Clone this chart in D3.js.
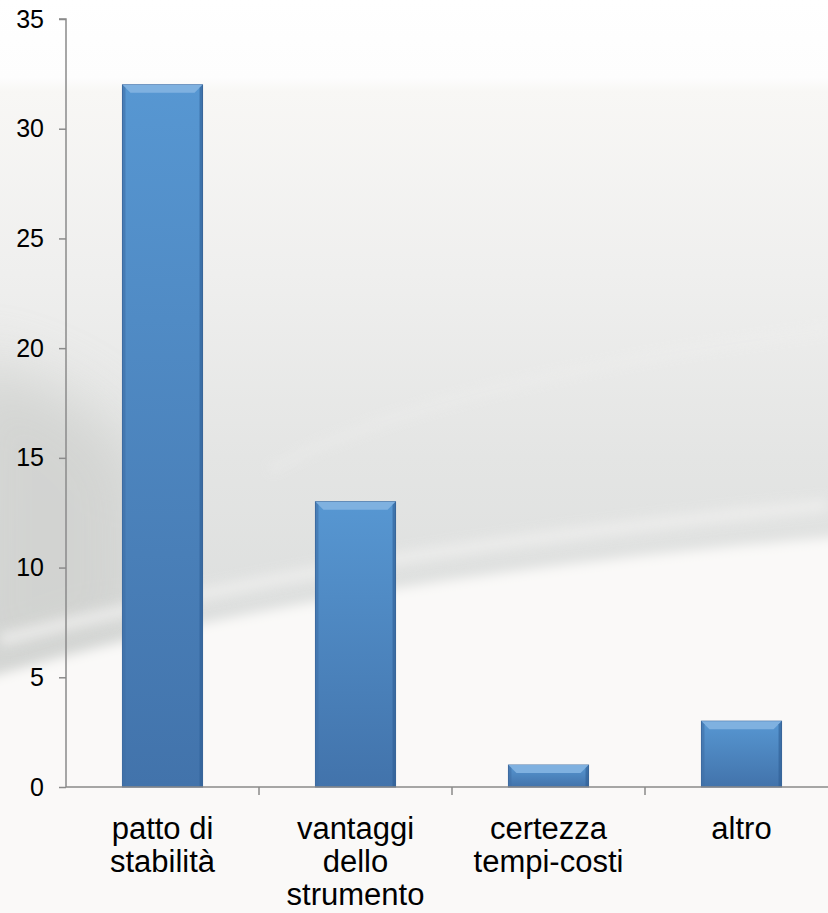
<!DOCTYPE html>
<html lang="it">
<head>
<meta charset="UTF-8" />
<script src="https://d3js.org/d3.v7.min.js"></script>
<style>
  body { margin: 0; background: #fff; }
  svg { display: block; font-family: "Liberation Sans", Arial, sans-serif; }
</style>
</head>
<body>
<svg id="chart" width="828" height="913"></svg>
<script>
// data
var categories = ["patto di|stabilità", "vantaggi|dello|strumento", "certezza|tempi-costi", "altro"];
var values = [32, 13, 1, 3];
var yTicks = [0, 5, 10, 15, 20, 25, 30, 35];

var width = 828, height = 913;
var svg = d3.select("#chart");
var defs = svg.append("defs");

// soft edges for the background shapes
defs.append("filter").attr("id", "soft").attr("x", "-20%").attr("y", "-20%")
  .attr("width", "140%").attr("height", "140%")
  .append("feGaussianBlur").attr("stdDeviation", 6);
defs.append("filter").attr("id", "softer").attr("x", "-20%").attr("y", "-20%")
  .attr("width", "140%").attr("height", "140%")
  .append("feGaussianBlur").attr("stdDeviation", 30);

// background gradient
var bg = defs.append("linearGradient").attr("id", "bg")
  .attr("x1", 0).attr("y1", 0).attr("x2", 0).attr("y2", 1);
bg.append("stop").attr("offset", "0%").attr("stop-color", "#ffffff");
bg.append("stop").attr("offset", "8.5%").attr("stop-color", "#fdfdfd");
bg.append("stop").attr("offset", "10%").attr("stop-color", "#f8f7f5");
bg.append("stop").attr("offset", "30%").attr("stop-color", "#efefee");
bg.append("stop").attr("offset", "50%").attr("stop-color", "#e4e5e4");
bg.append("stop").attr("offset", "70%").attr("stop-color", "#dcdedd");
bg.append("stop").attr("offset", "100%").attr("stop-color", "#d8dad9");

svg.append("rect").attr("width", width).attr("height", height).attr("fill", "url(#bg)");

// darker shade on the left
svg.append("path")
  .attr("d", "M-40,360 C60,380 120,420 140,480 L140,640 L-40,700 Z")
  .attr("fill", "#cfd0ce").attr("opacity", 0.8).attr("filter", "url(#softer)");

// faint white streaks
svg.append("path")
  .attr("d", "M270,470 C400,400 600,360 828,330")
  .attr("fill", "none").attr("stroke", "#f2f2f1").attr("stroke-width", 4).attr("opacity", 0.7)
  .attr("filter", "url(#soft)");
svg.append("path")
  .attr("d", "M0,640 C200,590 420,545 828,505")
  .attr("fill", "none").attr("stroke", "#eeeeed").attr("stroke-width", 14).attr("opacity", 0.8)
  .attr("filter", "url(#soft)");

// white lower area
svg.append("path")
  .attr("d", "M-20,680 C150,630 380,575 860,535 L860,940 L-20,940 Z")
  .attr("fill", "#faf9f8").attr("filter", "url(#soft)");

// scales
var x = d3.scaleBand().domain(categories).range([66, 838])
  .paddingInner(0.585).paddingOuter(0.2925);
var y = d3.scaleLinear().domain([0, 35]).range([787, 19]);

// bar gradient
var barG = defs.append("linearGradient").attr("id", "barG")
  .attr("x1", 0).attr("y1", 0).attr("x2", 0).attr("y2", 1);
barG.append("stop").attr("offset", "0%").attr("stop-color", "#5797d2");
barG.append("stop").attr("offset", "100%").attr("stop-color", "#4273ab");

var bars = svg.append("g").selectAll("g")
  .data(categories.map(function(c, i) { return { c: c, v: values[i] }; }))
  .enter().append("g");

bars.append("rect")
  .attr("x", function(d) { return x(d.c); })
  .attr("y", function(d) { return y(d.v); })
  .attr("width", x.bandwidth())
  .attr("height", function(d) { return y(0) - y(d.v); })
  .attr("fill", "url(#barG)")
  .attr("stroke", "#3a679c").attr("stroke-width", 1);

// bevel on top and sides
var bev = 8;
bars.append("path")
  .attr("d", function(d) {
    var x0 = x(d.c), x1 = x0 + x.bandwidth(), t = y(d.v);
    return "M" + x0 + "," + t + "L" + x1 + "," + t + "L" + (x1 - bev) + "," + (t + bev) +
      "L" + (x0 + bev) + "," + (t + bev) + "Z";
  })
  .attr("fill", "#7fb1e0");
bars.append("path")
  .attr("d", function(d) {
    var x0 = x(d.c), t = y(d.v), h = y(0) - t;
    return "M" + x0 + "," + t + "L" + (x0 + 3) + "," + (t + 3) + "L" + (x0 + 3) + "," + (t + h) +
      "L" + x0 + "," + (t + h) + "Z";
  })
  .attr("fill", "#3f6fa6").attr("opacity", 0.6);
bars.append("path")
  .attr("d", function(d) {
    var x1 = x(d.c) + x.bandwidth(), t = y(d.v), h = y(0) - t;
    return "M" + x1 + "," + t + "L" + (x1 - 3) + "," + (t + 3) + "L" + (x1 - 3) + "," + (t + h) +
      "L" + x1 + "," + (t + h) + "Z";
  })
  .attr("fill", "#2f5d92").attr("opacity", 0.6);

// y axis
var yAxis = svg.append("g").attr("transform", "translate(66,0)")
  .call(d3.axisLeft(y).tickValues(yTicks).tickSize(7).tickPadding(15));
yAxis.select(".domain").attr("stroke", "#8a8a8a").attr("stroke-width", 1.5)
  .attr("d", "M-7," + y(35) + "H0V" + y(0));
yAxis.selectAll(".tick line").attr("stroke", "#8a8a8a").attr("stroke-width", 1.5);
yAxis.selectAll(".tick text").attr("fill", "#000")
  .style("font-family", "'Liberation Sans', Arial, sans-serif").style("font-size", "25px");

// x axis
var xAxis = svg.append("g").attr("transform", "translate(0," + y(0) + ")");
xAxis.append("line").attr("x1", 66).attr("x2", 838).attr("stroke", "#8a8a8a").attr("stroke-width", 1.5);
xAxis.selectAll(".xt").data(categories).enter().append("line")
  .attr("x1", function(d) { return x(d) + x.bandwidth() / 2 + x.step() / 2; })
  .attr("x2", function(d) { return x(d) + x.bandwidth() / 2 + x.step() / 2; })
  .attr("y1", 0).attr("y2", 8)
  .attr("stroke", "#8a8a8a").attr("stroke-width", 1.5);

var labels = xAxis.selectAll(".xl").data(categories).enter().append("text")
  .attr("text-anchor", "middle")
  .style("font-size", "31px").attr("fill", "#000")
  .attr("transform", function(d) { return "translate(" + (x(d) + x.bandwidth() / 2) + ",52)"; });
labels.selectAll("tspan").data(function(d) { return d.split("|"); }).enter().append("tspan")
  .attr("x", 0).attr("dy", function(d, i) { return i === 0 ? 0 : 33; })
  .text(function(d) { return d; });
</script>
</body>
</html>
